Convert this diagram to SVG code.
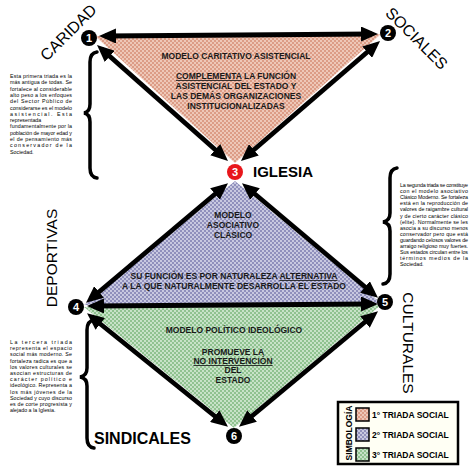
<svg xmlns="http://www.w3.org/2000/svg" width="474" height="474" viewBox="0 0 474 474">
<style>
.lbl{font-family:"Liberation Sans",Arial,sans-serif;fill:#000}
.tri{font-family:"Liberation Sans",Arial,sans-serif;font-weight:bold;font-size:8.5px;fill:#1a1a1a;text-anchor:middle}
.par{font-family:"Liberation Sans",Arial,sans-serif;font-size:5.3px;fill:#000}
.arr{stroke:#000;stroke-width:4.8;fill:none;marker-start:url(#ah);marker-end:url(#ah)}
.brace{stroke:#000;stroke-width:3.5;fill:none;stroke-linecap:round}
.num{font-family:"Liberation Sans",Arial,sans-serif;font-weight:bold;font-size:11px;fill:#fff;text-anchor:middle}
.leg{font-family:"Liberation Sans",Arial,sans-serif;font-weight:bold;font-size:8.5px;fill:#000}
</style>
<defs>
<pattern id="pk" width="4" height="4" patternUnits="userSpaceOnUse">
<rect width="4" height="4" fill="#dc9c86"/><circle cx="1" cy="1" r="0.9" fill="#f7dcd0"/><circle cx="3" cy="3" r="0.9" fill="#f7dcd0"/>
</pattern>
<pattern id="bl" width="4" height="4" patternUnits="userSpaceOnUse">
<rect width="4" height="4" fill="#9090bc"/><circle cx="1" cy="1" r="0.9" fill="#e4e4f2"/><circle cx="3" cy="3" r="0.9" fill="#e4e4f2"/>
</pattern>
<pattern id="gr" width="4" height="4" patternUnits="userSpaceOnUse">
<rect width="4" height="4" fill="#90c290"/><circle cx="1" cy="1" r="0.9" fill="#e2f2e2"/><circle cx="3" cy="3" r="0.9" fill="#e2f2e2"/>
</pattern>
<marker id="ah" markerUnits="userSpaceOnUse" markerWidth="17" markerHeight="15" viewBox="0 0 17 15" refX="11" refY="7.5" orient="auto-start-reverse">
<path d="M0,0 L17,7.5 L0,15 z" fill="#000"/>
</marker>
</defs>
<rect width="474" height="474" fill="#fff"/>

<g id="triangles">
<polygon points="95,36 381,34 235,163" fill="url(#pk)"/>
<polygon points="235,181 84,305 381,303" fill="url(#bl)"/>
<polygon points="84,307 381,305 234,428" fill="url(#gr)"/>
</g>

<g id="connectors">
<line class="arr" x1="105" y1="36" x2="372" y2="34"/>
<line class="arr" x1="101.5" y1="49" x2="223.5" y2="157"/>
<line class="arr" x1="375.5" y1="45" x2="245.5" y2="157"/>
<line class="arr" x1="223.4" y1="187" x2="90.6" y2="299"/>
<line class="arr" x1="246.6" y1="187" x2="373.4" y2="294"/>
<line class="arr" x1="93" y1="306" x2="372" y2="304"/>
<line class="arr" x1="91.7" y1="317" x2="223.3" y2="423"/>
<line class="arr" x1="373.4" y1="315" x2="243.6" y2="423"/>
</g>

<g id="tri1-text">
<text class="tri" x="236" y="59">MODELO CARITATIVO ASISTENCIAL</text>
<text class="tri" x="236" y="79"><tspan text-decoration="underline">COMPLEMENTA</tspan> LA FUNCIÓN</text>
<text class="tri" x="236" y="89">ASISTENCIAL DEL ESTADO Y</text>
<text class="tri" x="236" y="99">LAS DEMÁS ORGANIZACIONES</text>
<text class="tri" x="236" y="109">INSTITUCIONALIZADAS</text>
</g>
<g id="tri2-text">
<text class="tri" x="233" y="218">MODELO</text>
<text class="tri" x="233" y="228">ASOCIATIVO</text>
<text class="tri" x="233" y="238">CLÁSICO</text>
<text class="tri" x="234" y="279">SU FUNCIÓN ES POR NATURALEZA <tspan text-decoration="underline">ALTERNATIVA</tspan></text>
<text class="tri" x="234" y="289">A LA QUE NATURALMENTE DESARROLLA EL ESTADO</text>
</g>
<g id="tri3-text">
<text class="tri" x="234" y="333">MODELO POLÍTICO IDEOLÓGICO</text>
<text class="tri" x="233" y="355">PROMUEVE LA</text>
<text class="tri" x="233" y="364" text-decoration="underline">NO INTERVENCIÓN</text>
<text class="tri" x="233" y="373">DEL</text>
<text class="tri" x="233" y="383">ESTADO</text>
</g>

<g id="node1">
<circle cx="89" cy="38" r="8" fill="#000"/><text class="num" x="89" y="42">1</text>
<text class="lbl" font-size="16" text-anchor="middle" transform="translate(68,32) rotate(-45)" y="6">CARIDAD</text>
</g>
<g id="node2">
<circle cx="388" cy="33" r="8" fill="#000"/><text class="num" x="388" y="37">2</text>
<text class="lbl" font-size="16" text-anchor="middle" transform="translate(417,38) rotate(45)" y="6">SOCIALES</text>
</g>
<g id="node3">
<circle cx="235" cy="172" r="8" fill="#e8161b"/><text class="num" x="235" y="176">3</text>
<text class="lbl" font-size="15" font-weight="bold" x="253" y="177">IGLESIA</text>
</g>
<g id="node4">
<circle cx="76" cy="307" r="8" fill="#000"/><text class="num" x="76" y="311">4</text>
<text class="lbl" font-size="15.5" text-anchor="middle" transform="translate(51,258) rotate(-90)" y="5.5">DEPORTIVAS</text>
</g>
<g id="node5">
<circle cx="385" cy="302" r="8" fill="#000"/><text class="num" x="385" y="306">5</text>
<text class="lbl" font-size="15.5" text-anchor="middle" transform="translate(408,343) rotate(90)" y="5.5">CULTURALES</text>
</g>
<g id="node6">
<circle cx="234" cy="436" r="8" fill="#000"/><text class="num" x="234" y="440">6</text>
<text class="lbl" font-size="16" font-weight="bold" x="94" y="444">SINDICALES</text>
</g>

<g id="note1">
<path class="brace" d="M97,52 Q90,53 90,62 L90,104 Q90,112 84,113 Q90,114 90,122 L90,168 Q90,177 97,178"/>
<text class="par">
<tspan x="10" y="78" textLength="62" lengthAdjust="spacing">Esta primera triada es la</tspan>
<tspan x="10" y="84.3" textLength="62" lengthAdjust="spacing">más antigua de todas. Se</tspan>
<tspan x="10" y="90.6" textLength="62" lengthAdjust="spacing">fortalece al considerable</tspan>
<tspan x="10" y="96.9" textLength="62" lengthAdjust="spacing">alto peso a los enfoques</tspan>
<tspan x="10" y="103.2" textLength="62" lengthAdjust="spacing">del Sector Público de</tspan>
<tspan x="10" y="109.5" textLength="62" lengthAdjust="spacing">considerarse es el modelo</tspan>
<tspan x="10" y="115.8" textLength="62" lengthAdjust="spacing">asistencial. Esta</tspan>
<tspan x="10" y="122.1">representada</tspan>
<tspan x="10" y="128.4" textLength="62" lengthAdjust="spacing">fundamentalmente por la</tspan>
<tspan x="10" y="134.7" textLength="62" lengthAdjust="spacing">población de mayor edad y</tspan>
<tspan x="10" y="141" textLength="62" lengthAdjust="spacing">el de pensamiento más</tspan>
<tspan x="10" y="147.3" textLength="62" lengthAdjust="spacing">conservador de la</tspan>
<tspan x="10" y="153.6">Sociedad.</tspan>
</text>
</g>

<g id="note2">
<path class="brace" d="M397,168 Q390,169 390,178 L390,213 Q390,221 383,222 Q390,223 390,231 L390,274 Q390,283 383,284"/>
<text class="par">
<tspan x="400" y="187" textLength="68" lengthAdjust="spacing">La segunda triada se constituye</tspan>
<tspan x="400" y="193.1" textLength="68" lengthAdjust="spacing">con el modelo asociativo</tspan>
<tspan x="400" y="199.2" textLength="68" lengthAdjust="spacing">Clásico Moderno. Se fortaleza</tspan>
<tspan x="400" y="205.3" textLength="68" lengthAdjust="spacing">está en la reproducción de</tspan>
<tspan x="400" y="211.4" textLength="68" lengthAdjust="spacing">valores de raigambre cultural</tspan>
<tspan x="400" y="217.5" textLength="68" lengthAdjust="spacing">y de cierto carácter clásico</tspan>
<tspan x="400" y="223.6" textLength="68" lengthAdjust="spacing">(elite). Normalmente se les</tspan>
<tspan x="400" y="229.7" textLength="68" lengthAdjust="spacing">asocia a su discurso menos</tspan>
<tspan x="400" y="235.8" textLength="68" lengthAdjust="spacing">conservador pero que está</tspan>
<tspan x="400" y="241.9" textLength="68" lengthAdjust="spacing">guardando celosos valores de</tspan>
<tspan x="400" y="248" textLength="68" lengthAdjust="spacing">arraigo religioso muy fuertes.</tspan>
<tspan x="400" y="254.1" textLength="68" lengthAdjust="spacing">Sus estados circulan entre los</tspan>
<tspan x="400" y="260.2" textLength="68" lengthAdjust="spacing">términos medios de la</tspan>
<tspan x="400" y="266.3">Sociedad.</tspan>
</text>
</g>

<g id="note3">
<path class="brace" d="M94,320 Q87,321 87,330 L87,368 Q87,376 80,377 Q87,378 87,386 L87,438 Q87,447 94,448"/>
<text class="par">
<tspan x="10" y="344" textLength="62" lengthAdjust="spacing">La tercera triada</tspan>
<tspan x="10" y="350.2" textLength="62" lengthAdjust="spacing">representa el espacio</tspan>
<tspan x="10" y="356.4" textLength="62" lengthAdjust="spacing">social más moderno. Se</tspan>
<tspan x="10" y="362.6" textLength="62" lengthAdjust="spacing">fortaleza radica es que a</tspan>
<tspan x="10" y="368.8" textLength="62" lengthAdjust="spacing">los valores culturales se</tspan>
<tspan x="10" y="375" textLength="62" lengthAdjust="spacing">asocian estructuras de</tspan>
<tspan x="10" y="381.2" textLength="62" lengthAdjust="spacing">carácter político e</tspan>
<tspan x="10" y="387.4" textLength="62" lengthAdjust="spacing">ideológico. Representa a</tspan>
<tspan x="10" y="393.6" textLength="62" lengthAdjust="spacing">los más jóvenes de la</tspan>
<tspan x="10" y="399.8" textLength="62" lengthAdjust="spacing">Sociedad y cuyo discurso</tspan>
<tspan x="10" y="406" textLength="62" lengthAdjust="spacing">es de corte progresista y</tspan>
<tspan x="10" y="412.2">alejado a la Iglesia.</tspan>
</text>
</g>

<g id="legend">
<rect x="338" y="402" width="120" height="62" fill="#fffff4" stroke="#000" stroke-width="2.5"/>
<text class="leg" font-size="7" text-anchor="middle" transform="translate(349,433) rotate(-90)" y="2.5">SIMBOLOGÍA</text>
<rect x="356" y="408" width="13" height="13" fill="url(#pk)" stroke="#000" stroke-width="1.5"/>
<rect x="356" y="428" width="13" height="13" fill="url(#bl)" stroke="#000" stroke-width="1.5"/>
<rect x="356" y="448" width="13" height="13" fill="url(#gr)" stroke="#000" stroke-width="1.5"/>
<text class="leg" x="372" y="418">1° TRIADA SOCIAL</text>
<text class="leg" x="372" y="438">2° TRIADA SOCIAL</text>
<text class="leg" x="372" y="458">3° TRIADA SOCIAL</text>
</g>
</svg>
